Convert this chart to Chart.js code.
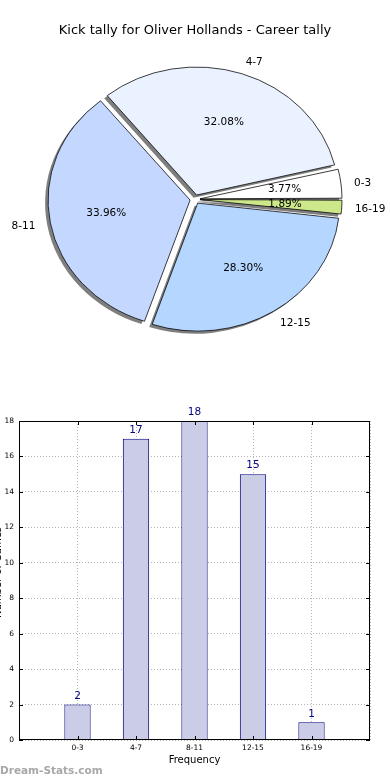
<!DOCTYPE html>
<html>
<head>
<meta charset="utf-8">
<script src="https://cdn.jsdelivr.net/npm/chart.js@4.4.1/dist/chart.umd.min.js"></script>
<style>
  html, body { margin: 0; padding: 0; background: #fff; }
  body { width: 390px; height: 780px; position: relative; overflow: hidden; }
  #pieChart { position: absolute; left: 0; top: 0; }
  #barChart { position: absolute; left: 0; top: 400px; }
  .watermark {
    position: absolute; left: 0; top: 763px;
    font: bold 10.5px 'DejaVu Sans', sans-serif; line-height: 14px;
    color: #a8a8a8;
  }
</style>
</head>
<body>
<canvas id="pieChart" width="390" height="360"></canvas>
<canvas id="barChart" width="390" height="380"></canvas>
<div class="watermark">Dream-Stats.com</div>

<script>
/* ---- data ---- */
const categories = ['0-3', '4-7', '8-11', '12-15', '16-19'];
const tallies = [2, 17, 18, 15, 1];
const sliceColors = ['#ffffff', '#eaf2ff', '#c4d8ff', '#b4d6ff', '#cde88a'];
const yTicks = [0, 2, 4, 6, 8, 10, 12, 14, 16, 18];

const chartTitle = 'Kick tally for Oliver Hollands - Career tally';
const total = tallies.reduce((a, b) => a + b, 0);

Chart.defaults.font.family = "'DejaVu Sans', sans-serif";
Chart.defaults.color = '#000';

/* ---- pie (matplotlib draws counter-clockwise from 3 o'clock) ---- */
const pieOrder = [4, 3, 2, 1, 0];
const PIE_RX = 142;
const PIE_RY = 128;
const EXPLODE = 5;

const pieShape = {
  id: 'pieShape',
  beforeDatasetsDraw(chart) {
    const ctx = chart.ctx;
    const arcs = chart.getDatasetMeta(0).data;
    const { x, y } = arcs[0];
    // Chart.js grows thin exploded wedges a little; undo that
    arcs.forEach(arc => {
      const c = arc.endAngle - arc.startAngle;
      arc.outerRadius = PIE_RX - EXPLODE * (1 - Math.sin(Math.min(Math.PI, c)));
    });
    ctx.save();
    // squash into an ellipse like the unequal-aspect original
    ctx.translate(x, y);
    ctx.scale(1, PIE_RY / PIE_RX);
    ctx.translate(-x, -y);
    // shadows underneath all wedges
    arcs.forEach(arc => {
      const o = arc.options;
      const bg = o.backgroundColor, bc = o.borderColor;
      o.backgroundColor = 'rgba(0,0,0,0.5)';
      o.borderColor = 'rgba(0,0,0,0)';
      ctx.save();
      ctx.translate(-3, 3);
      arc.draw(ctx);
      ctx.restore();
      o.backgroundColor = bg;
      o.borderColor = bc;
    });
  },
  afterDatasetsDraw(chart) {
    const ctx = chart.ctx;
    ctx.restore();
    const arcs = chart.getDatasetMeta(0).data;
    const k = PIE_RY / PIE_RX;
    ctx.save();
    ctx.fillStyle = '#000';
    ctx.font = "10.5px 'DejaVu Sans', sans-serif";
    ctx.textBaseline = 'middle';
    arcs.forEach((arc, i) => {
      const idx = pieOrder[i];
      const m = (arc.startAngle + arc.endAngle) / 2;
      const ux = Math.cos(m), uy = Math.sin(m);
      const lr = 1.1 * PIE_RX + EXPLODE;
      ctx.textAlign = ux > 0 ? 'left' : 'right';
      ctx.fillText(categories[idx], arc.x + lr * ux - 1, arc.y + lr * uy * k + 1);
      const pr = 0.6 * PIE_RX + EXPLODE;
      ctx.textAlign = 'center';
      ctx.fillText((tallies[idx] / total * 100).toFixed(2) + '%', arc.x + pr * ux, arc.y + pr * uy * k);
    });
    ctx.restore();
  }
};

new Chart(document.getElementById('pieChart'), {
  type: 'pie',
  data: {
    labels: pieOrder.map(i => categories[i]),
    datasets: [{
      data: pieOrder.map(i => tallies[i]),
      backgroundColor: pieOrder.map(i => sliceColors[i]),
      borderColor: '#000',
      borderWidth: 0.8,
      offset: EXPLODE * 4,
      radius: PIE_RX,
      rotation: 90
    }]
  },
  options: {
    responsive: false,
    animation: false,
    events: [],
    layout: { padding: 0 },
    plugins: {
      legend: { display: false },
      tooltip: { enabled: false },
      title: {
        display: true,
        text: chartTitle,
        color: '#000',
        font: { size: 13, weight: 'normal' },
        padding: { top: 23, bottom: 0 }
      }
    }
  },
  plugins: [pieShape]
});

/* ---- bar chart ---- */
const barExtras = {
  id: 'barExtras',
  afterDatasetsDraw(chart) {
    const ctx = chart.ctx;
    const bars = chart.getDatasetMeta(0).data;
    ctx.save();
    ctx.fillStyle = '#000080';
    ctx.font = "10.5px 'DejaVu Sans', sans-serif";
    ctx.textAlign = 'center';
    ctx.textBaseline = 'middle';
    bars.forEach((bar, i) => ctx.fillText(String(tallies[i]), bar.x, bar.y - 8.5));
    ctx.restore();
  },
  afterDraw(chart) {
    const ctx = chart.ctx;
    const { left, right, top, bottom } = chart.chartArea;
    ctx.save();
    ctx.strokeStyle = '#000';
    ctx.lineWidth = 1;
    ctx.strokeRect(left + 0.5, top + 0.5, right - left - 1, bottom - top - 1);
    // inward tick marks
    ctx.beginPath();
    yTicks.forEach(v => {
      const py = Math.round(chart.scales.y.getPixelForValue(v)) + 0.5;
      ctx.moveTo(left, py); ctx.lineTo(left + 4, py);
      ctx.moveTo(right, py); ctx.lineTo(right - 4, py);
    });
    categories.forEach((c, i) => {
      const px = Math.round(chart.scales.x.getPixelForValue(i)) + 0.5;
      ctx.moveTo(px, bottom); ctx.lineTo(px, bottom - 4);
      ctx.moveTo(px, top); ctx.lineTo(px, top + 4);
    });
    ctx.stroke();
    // y title, mostly cut off at the left edge as in the original
    ctx.fillStyle = '#000';
    ctx.font = "10px 'DejaVu Sans', sans-serif";
    ctx.translate(3, (top + bottom) / 2 - 8);
    ctx.rotate(-Math.PI / 2);
    ctx.textAlign = 'center';
    ctx.textBaseline = 'bottom';
    ctx.fillText('Number of Games', 0, 0);
    ctx.restore();
  }
};

new Chart(document.getElementById('barChart'), {
  type: 'bar',
  data: {
    datasets: [{
      data: categories.map((c, i) => ({ x: i, y: tallies[i] })),
      backgroundColor: '#cbcce6',
      borderColor: '#000080',
      borderWidth: 1,
      barPercentage: 0.45,
      categoryPercentage: 1
    }]
  },
  options: {
    responsive: false,
    animation: false,
    events: [],
    layout: { padding: { top: 21, right: 20, left: 0, bottom: 14 } },
    plugins: { legend: { display: false }, tooltip: { enabled: false } },
    scales: {
      x: {
        type: 'linear',
        offset: false,
        min: -1,
        max: 5,
        z: 1,
        afterBuildTicks: s => { s.ticks = [-1, 0, 1, 2, 3, 4, 5].map(v => ({ value: v })); },
        ticks: {
          callback: v => categories[v] ?? '',
          font: { size: 7.5 },
          color: '#000',
          padding: 4,
          maxRotation: 0,
          autoSkip: false
        },
        grid: { color: '#b4b4b4', drawTicks: false, offset: false },
        border: { display: false, dash: [1, 2] },
        title: { display: true, text: 'Frequency', font: { size: 10 }, color: '#000', padding: 0 },
        afterFit: s => { s.height = 26; }
      },
      y: {
        min: 0,
        max: 18,
        z: 1,
        afterBuildTicks: s => { s.ticks = yTicks.map(v => ({ value: v })); },
        ticks: { font: { size: 7.5 }, color: '#000', padding: 5 },
        grid: { color: '#b4b4b4', drawTicks: false },
        border: { display: false, dash: [1, 2] },
        afterFit: s => { s.width = 19; }
      }
    }
  },
  plugins: [barExtras]
});
</script>
</body>
</html>
